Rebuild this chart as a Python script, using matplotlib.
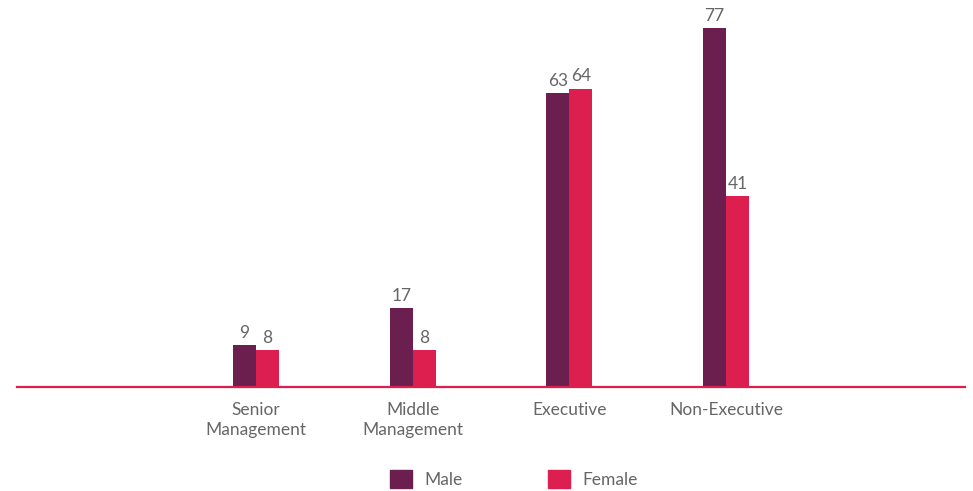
import matplotlib
matplotlib.use("Agg")
import matplotlib.pyplot as plt
from matplotlib.patches import Patch
import numpy as np

plt.rcParams["font.family"] = ["Lato", "DejaVu Sans"]

categories = ["Senior\nManagement", "Middle\nManagement", "Executive", "Non-Executive"]
male = [9, 17, 63, 77]
female = [8, 8, 64, 41]

MALE_COLOR = "#6a1f4e"
FEMALE_COLOR = "#dc1f4e"
TEXT_COLOR = "#666666"
FS = 12.5

fig = plt.figure(figsize=(9.73, 4.91), dpi=100)
ax = fig.add_axes([17 / 973, (491 - 387) / 491, (965 - 17) / 973, (387 - 10) / 491])

# empty slot on each side, categories sit in slots 1..4
x = np.arange(1, len(categories) + 1)
w = 0.146
b1 = ax.bar(x - w / 2, male, w, color=MALE_COLOR, label="Male")
b2 = ax.bar(x + w / 2, female, w, color=FEMALE_COLOR, label="Female")
ax.bar_label(b1, padding=3, color=TEXT_COLOR, fontsize=FS)
ax.bar_label(b2, padding=3, color=TEXT_COLOR, fontsize=FS)

ax.set_xlim(-0.525, 5.525)
ax.set_ylim(0, 80.87)
ax.set_xticks(x)
ax.set_xticklabels(categories, color=TEXT_COLOR, fontsize=FS, linespacing=1.25)
ax.tick_params(axis="x", length=0, pad=11)
ax.set_yticks([])
for s in ["top", "left", "right"]:
    ax.spines[s].set_visible(False)
ax.spines["bottom"].set_color(FEMALE_COLOR)
ax.spines["bottom"].set_linewidth(1.6)

handles = [Patch(color=MALE_COLOR), Patch(color=FEMALE_COLOR)]
fig.legend(handles, ["Male", "Female"], loc="center", bbox_to_anchor=(0.528, 0.0244),
           ncol=2, frameon=False, fontsize=FS, labelcolor=TEXT_COLOR,
           handlelength=1.27, handleheight=1.27, handletextpad=0.7,
           columnspacing=4.95, borderpad=0)

fig.savefig("out.png", dpi=100)
